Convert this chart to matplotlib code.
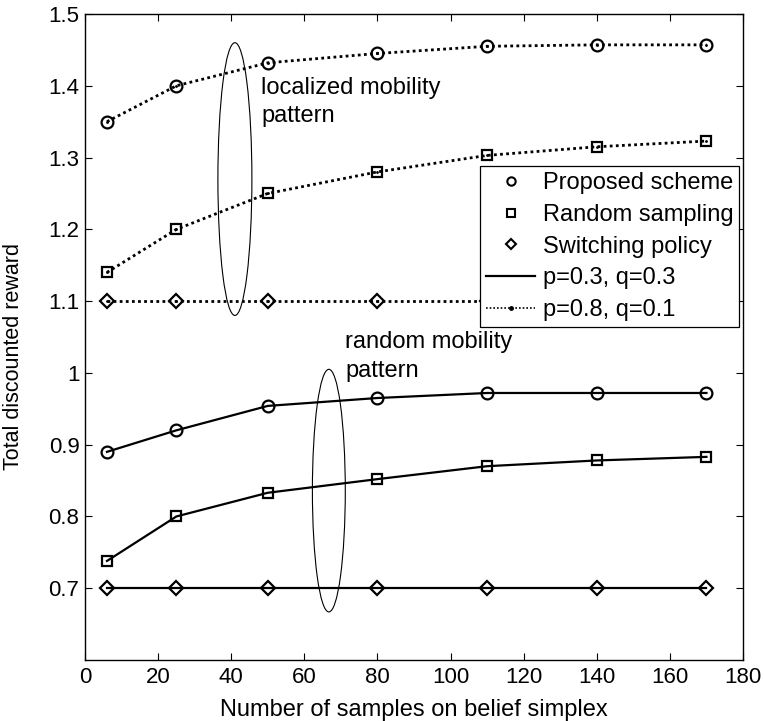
import matplotlib
matplotlib.use("Agg")
import matplotlib.pyplot as plt
from matplotlib.lines import Line2D
from matplotlib.patches import Ellipse

plt.rcParams['font.family'] = ['Liberation Sans', 'DejaVu Sans']

# Number of belief-simplex samples
samples = [6, 25, 50, 80, 110, 140, 170]

# Localized mobility pattern (p=0.8, q=0.1)
loc_proposed = [1.350, 1.400, 1.432, 1.445, 1.455, 1.457, 1.457]
loc_random = [1.140, 1.200, 1.250, 1.280, 1.303, 1.315, 1.323]
loc_switching = [1.100, 1.100, 1.100, 1.100, 1.100, 1.100, 1.100]

# Random mobility pattern (p=0.3, q=0.3)
rnd_proposed = [0.890, 0.920, 0.954, 0.965, 0.972, 0.972, 0.972]
rnd_random = [0.738, 0.800, 0.833, 0.852, 0.870, 0.878, 0.883]
rnd_switching = [0.700, 0.700, 0.700, 0.700, 0.700, 0.700, 0.700]

legend_labels = ['Proposed scheme', 'Random sampling', 'Switching policy',
                 'p=0.3, q=0.3', 'p=0.8, q=0.1']
x_ticks = [0, 20, 40, 60, 80, 100, 120, 140, 160, 180]
y_ticks = [0.7, 0.8, 0.9, 1.0, 1.1, 1.2, 1.3, 1.4, 1.5]
y_ticklabels = ['0.7', '0.8', '0.9', '1', '1.1', '1.2', '1.3', '1.4', '1.5']

fig = plt.figure(figsize=(7.64, 7.21), dpi=100)
ax = fig.add_axes([0.1113, 0.0846, 0.8612, 0.896])

dotted = (0, (1, 1.2))
sizes = {'o': 8.5, 's': 7.5, 'D': 7.0}

for ys, m in [(loc_proposed, 'o'), (loc_random, 's'), (loc_switching, 'D')]:
    ax.plot(samples, ys, linestyle=dotted, linewidth=2.0, color='k',
            marker=m, markersize=sizes[m], markerfacecolor='none',
            markeredgecolor='k', markeredgewidth=1.6)
    ax.plot(samples, ys, linestyle='none', marker='.', color='k', markersize=2)

for ys, m in [(rnd_proposed, 'o'), (rnd_random, 's'), (rnd_switching, 'D')]:
    ax.plot(samples, ys, linestyle='-', linewidth=1.6, color='k',
            marker=m, markersize=sizes[m], markerfacecolor='none',
            markeredgecolor='k', markeredgewidth=1.6)

# Grouping ellipses
ax.add_patch(Ellipse((41.0, 1.27), 9.3, 0.38, fill=False, edgecolor='k',
                     linewidth=0.8))
ax.add_patch(Ellipse((66.7, 0.836), 9.0, 0.338, fill=False, edgecolor='k',
                     linewidth=0.8))

fs = 17
ax.text(48.2, 1.397, 'localized mobility', fontsize=fs, va='center', ha='left')
ax.text(48.2, 1.358, 'pattern', fontsize=fs, va='center', ha='left')
ax.text(71.2, 1.043, 'random mobility', fontsize=fs, va='center', ha='left')
ax.text(71.2, 1.003, 'pattern', fontsize=fs, va='center', ha='left')

ax.set_xlim(0, 180)
ax.set_ylim(0.6, 1.5)
ax.set_xticks(x_ticks)
ax.set_xticklabels([str(t) for t in x_ticks])
ax.set_yticks(y_ticks)
ax.set_yticklabels(y_ticklabels)
ax.tick_params(direction='in', length=5, width=0.8, labelsize=16,
               top=True, right=True)
ax.tick_params(axis='x', pad=5)
ax.tick_params(axis='y', pad=4)
for s in ax.spines.values():
    s.set_linewidth(1.0)

ax.set_xlabel('Number of samples on belief simplex', fontsize=17, labelpad=8)
ax.set_ylabel('Total discounted reward', fontsize=15.5)
ax.yaxis.set_label_coords(-0.093, 0.47)

handles = [
    Line2D([], [], linestyle='none', marker='o', markersize=6,
           markerfacecolor='none', markeredgecolor='k', markeredgewidth=1.5),
    Line2D([], [], linestyle='none', marker='s', markersize=5.5,
           markerfacecolor='none', markeredgecolor='k', markeredgewidth=1.5),
    Line2D([], [], linestyle='none', marker='D', markersize=5.5,
           markerfacecolor='none', markeredgecolor='k', markeredgewidth=1.5),
    Line2D([], [], linestyle='-', linewidth=1.6, color='k'),
    Line2D([], [], linestyle=dotted, linewidth=1.2, color='k',
           marker='.', markersize=5),
]
leg = ax.legend(handles, legend_labels, loc='upper right',
                bbox_to_anchor=(0.994, 0.764), borderaxespad=0,
                fontsize=17, frameon=True, fancybox=False, framealpha=1,
                edgecolor='k', handlelength=2.1, handletextpad=0.3,
                labelspacing=0.41, borderpad=0.25)
leg.get_frame().set_linewidth(0.9)

fig.savefig('out.png', dpi=100)
